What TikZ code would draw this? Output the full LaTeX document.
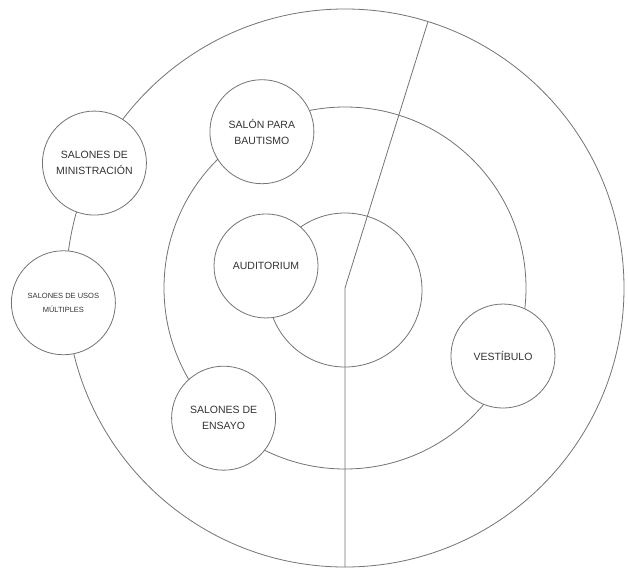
\documentclass[tikz,border=0pt]{standalone}
\usepackage{fontspec}
\setmainfont{Liberation Sans}
\tikzset{
  zona/.style={circle,draw=black!55,fill=white,line width=0.8pt,minimum size=104pt,inner sep=0pt,align=center,font=\fontsize{10.5}{16}\selectfont,text=black!80},
  anillo/.style={draw=black!55,line width=0.8pt}
}
\begin{document}
\begin{tikzpicture}[x=1pt,y=1pt]
\useasboundingbox (-345,-283) rectangle (283,288);
\coordinate (c) at (0,0);
\coordinate (sur) at (-90:279);
\coordinate (norte) at (72.7:279);
\draw[anillo] (c) circle (279);
\draw[anillo] (c) circle (181);
\draw[anillo] (0,-2) circle (77);
\draw[anillo] (sur) -- (c) -- (norte);
\draw (153.5:280) node[zona] (min) {SALONES DE\\MINISTRACIÓN};
\draw (183:282) node[zona,font=\fontsize{7.5}{14}\selectfont] (usos) {SALONES DE USOS\\MÚLTIPLES};
\draw (118:177) node[zona] (baut) {SALÓN PARA\\BAUTISMO};
\draw (227:178) node[zona] (ens) {SALONES DE\\ENSAYO};
\draw (-23.3:172) node[zona] (vest) {VESTÍBULO};
\draw (164.4:82) node[zona] (aud) {AUDITORIUM};
\end{tikzpicture}
\end{document}
